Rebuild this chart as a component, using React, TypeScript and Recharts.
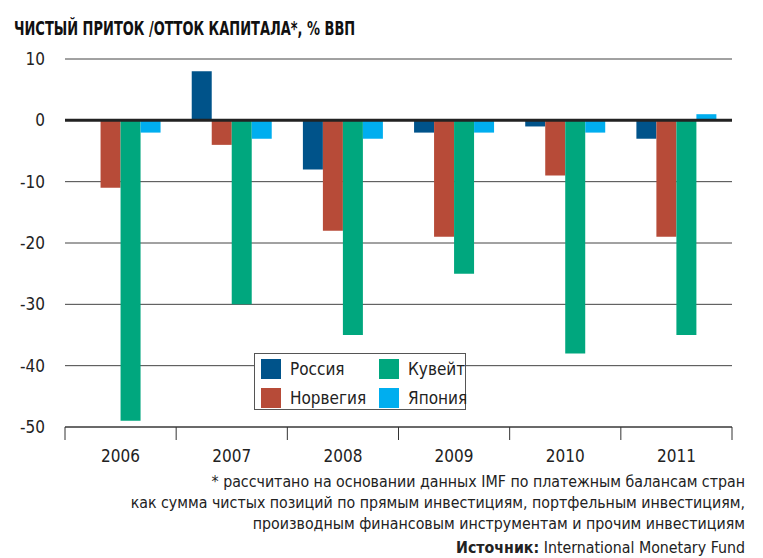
import { Bar, BarChart, CartesianGrid, ReferenceLine, XAxis, YAxis } from "recharts"

const years = ["2006", "2007", "2008", "2009", "2010", "2011"]
const russia = [0, 8, -8, -2, -1, -3]
const norway = [-11, -4, -18, -19, -9, -19]
const kuwait = [-49, -30, -35, -25, -38, -35]
const japan = [-2, -3, -3, -2, -2, 1]
const yTicks = [10, 0, -10, -20, -30, -40, -50]

const series = [
  { key: "russia", name: "Россия", color: "#00538a" },
  { key: "norway", name: "Норвегия", color: "#b74b38" },
  { key: "kuwait", name: "Кувейт", color: "#00a77e" },
  { key: "japan", name: "Япония", color: "#00aeef" },
]

const FONT = "'Liberation Sans Narrow', 'DejaVu Sans Condensed', Roboto, sans-serif"

const data = years.map((year, i) => ({
  year,
  russia: russia[i],
  norway: norway[i],
  kuwait: kuwait[i],
  japan: japan[i],
}))

const YTick = ({ x, y, payload }: any) => (
  <text x={x - 12} y={y} dy={6} textAnchor="end" fill="#222" fontSize={17} fontFamily={FONT}>
    {payload.value}
  </text>
)

// year label in the middle, tick marks on the category borders
const XTick = ({ x, y, payload, index }: any) => {
  const step = 667 / years.length
  return (
    <g>
      <line x1={x - step / 2} x2={x - step / 2} y1={y - 8} y2={y + 5} stroke="#333" />
      {index === years.length - 1 && (
        <line x1={x + step / 2} x2={x + step / 2} y1={y - 8} y2={y + 5} stroke="#333" />
      )}
      <text x={x} y={y + 27} textAnchor="middle" fill="#222" fontSize={17} fontFamily={FONT}>
        {payload.value}
      </text>
    </g>
  )
}

export default function App() {
  const footStyle = {
    position: "absolute" as const,
    right: 18,
    fontSize: 15.8,
    color: "#222",
    fontFamily: FONT,
    whiteSpace: "nowrap" as const,
  }
  return (
    <div style={{ position: "absolute", left: 0, top: 0, width: 763, height: 558, background: "#fff", fontFamily: FONT }}>
      <div
        style={{
          position: "absolute",
          left: 14,
          top: 17,
          fontSize: 19,
          fontWeight: 700,
          color: "#111",
          whiteSpace: "nowrap",
          transform: "scaleX(0.76)",
          transformOrigin: "left top",
        }}
      >
        ЧИСТЫЙ ПРИТОК /ОТТОК КАПИТАЛА*, % ВВП
      </div>
      <BarChart
        width={763}
        height={558}
        data={data}
        margin={{ top: 59, right: 31, left: 0, bottom: 91 }}
        barCategoryGap="14%"
        barGap={0}
      >
        <CartesianGrid vertical={false} stroke="#444" />
        <XAxis
          dataKey="year"
          height={40}
          axisLine={{ stroke: "#333" }}
          tickLine={false}
          tick={<XTick />}
          interval={0}
        />
        <YAxis
          width={65}
          domain={[-50, 10]}
          ticks={yTicks}
          axisLine={false}
          tickLine={false}
          tick={<YTick />}
          interval={0}
        />
        {series.map((s) => (
          <Bar key={s.key} dataKey={s.key} name={s.name} fill={s.color} isAnimationActive={false} />
        ))}
        <ReferenceLine y={0} stroke="#222" strokeWidth={3} />
      </BarChart>
      <div
        style={{
          position: "absolute",
          left: 254,
          top: 353,
          width: 212,
          height: 57,
          border: "1px solid #555",
          background: "#fff",
          display: "grid",
          gridTemplateColumns: "118px 90px",
          gridTemplateRows: "29px 29px",
          gridAutoFlow: "column",
          padding: "0 0 0 6px",
          boxSizing: "border-box",
          fontSize: 17,
          color: "#222",
        }}
      >
        {series.map((s) => (
          <div key={s.key} style={{ display: "flex", alignItems: "center" }}>
            <span style={{ display: "inline-block", width: 20, height: 20, background: s.color, marginRight: 9 }} />
            {s.name}
          </div>
        ))}
      </div>
      <div style={{ ...footStyle, top: 472 }}>* рассчитано на основании данных IMF по платежным балансам стран</div>
      <div style={{ ...footStyle, top: 493 }}>как сумма чистых позиций по прямым инвестициям, портфельным инвестициям,</div>
      <div style={{ ...footStyle, top: 514 }}>производным финансовым инструментам и прочим инвестициям</div>
      <div style={{ ...footStyle, top: 538 }}>
        <b>Источник:</b> International Monetary Fund
      </div>
    </div>
  )
}
